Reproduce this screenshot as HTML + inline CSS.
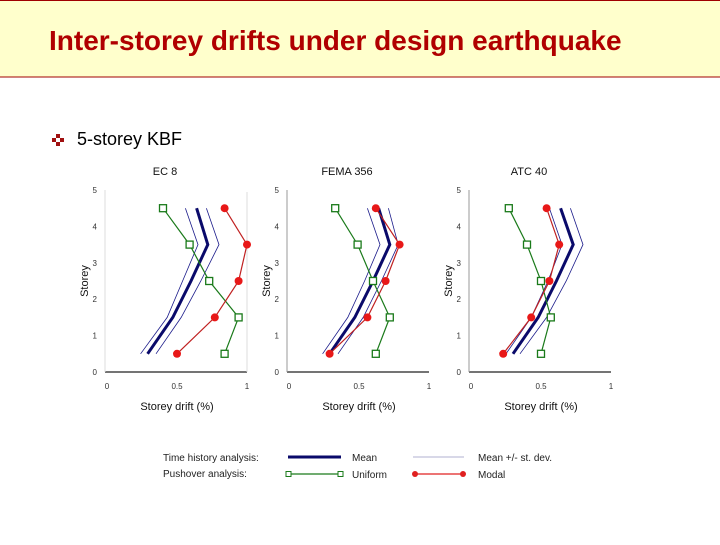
<!DOCTYPE html>
<html><head><meta charset="utf-8"><style>
body{margin:0;width:720px;height:540px;background:#fff;overflow:hidden;font-family:"Liberation Sans",sans-serif;}
</style></head><body>
<svg id="s" width="720" height="540" xmlns="http://www.w3.org/2000/svg" font-family="Liberation Sans, sans-serif">
<rect x="0" y="0" width="720" height="77" fill="#ffffcc"/>
<line x1="0" y1="0.5" x2="720" y2="0.5" stroke="#a00000"/>
<line x1="0" y1="77" x2="720" y2="77" stroke="#a00000"/>
<text x="49" y="50" font-size="28" font-weight="bold" fill="#b00000">Inter-storey drifts under design earthquake</text>
<g fill="#a01010"><rect x="56" y="134" width="4" height="4"/><rect x="52" y="138" width="4" height="4"/><rect x="60" y="138" width="4" height="4"/><rect x="56" y="142" width="4" height="4"/></g>
<text x="77" y="145" font-size="18" fill="#000">5-storey KBF</text>
<g id="charts"></g>
<g font-size="10" fill="#222">
<text x="163" y="461">Time history analysis:</text>
<text x="163" y="477">Pushover analysis:</text>
<line x1="288" y1="457" x2="341" y2="457" stroke="#0a0a6a" stroke-width="3"/>
<text x="352" y="461">Mean</text>
<line x1="413" y1="457" x2="464" y2="457" stroke="#b0b0d0" stroke-width="1"/>
<text x="478" y="461">Mean +/- st. dev.</text>
<line x1="288" y1="474" x2="340" y2="474" stroke="#1a7a1a" stroke-width="1.2"/>
<rect x="286" y="471.5" width="5" height="5" fill="#fff" stroke="#1a7a1a"/>
<rect x="338" y="471.5" width="5" height="5" fill="#fff" stroke="#1a7a1a"/>
<text x="352" y="478">Uniform</text>
<line x1="415" y1="474" x2="463" y2="474" stroke="#e02020" stroke-width="1.2"/>
<circle cx="415" cy="474" r="3" fill="#e02020"/>
<circle cx="463" cy="474" r="3" fill="#e02020"/>
<text x="478" y="478">Modal</text>
</g>
</svg>
<script>
const storeys = [4.5, 3.5, 2.5, 1.5, 0.5];
const panelTitles = ["EC 8", "FEMA 356", "ATC 40"];
const xTicks = ["0", "0.5", "1"];
const yTicks = ["0", "1", "2", "3", "4", "5"];
const meanEC8 = [0.64, 0.72, 0.60, 0.47, 0.29];
const meanMinusEC8 = [0.56, 0.65, 0.54, 0.43, 0.24];
const meanPlusEC8 = [0.71, 0.80, 0.67, 0.53, 0.35];
const uniformEC8 = [0.40, 0.59, 0.73, 0.94, 0.84];
const modalEC8 = [0.84, 1.00, 0.94, 0.77, 0.50];
const meanFEMA = [0.64, 0.72, 0.60, 0.47, 0.29];
const meanMinusFEMA = [0.56, 0.65, 0.54, 0.42, 0.24];
const meanPlusFEMA = [0.71, 0.78, 0.66, 0.53, 0.35];
const uniformFEMA = [0.33, 0.49, 0.60, 0.72, 0.62];
const modalFEMA = [0.62, 0.79, 0.69, 0.56, 0.29];
const meanATC = [0.64, 0.73, 0.61, 0.48, 0.30];
const meanMinusATC = [0.56, 0.65, 0.55, 0.43, 0.25];
const meanPlusATC = [0.71, 0.80, 0.68, 0.54, 0.35];
const uniformATC = [0.27, 0.40, 0.50, 0.57, 0.50];
const modalATC = [0.54, 0.63, 0.56, 0.43, 0.23];

const NS = "http://www.w3.org/2000/svg";
const root = document.getElementById("charts");
function mk(tag, attrs, parent) {
  const e = document.createElementNS(NS, tag);
  for (const k in attrs) e.setAttribute(k, attrs[k]);
  parent.appendChild(e);
  return e;
}
const panels = [
  {x0: 107, mean: meanEC8, lo: meanMinusEC8, hi: meanPlusEC8, uni: uniformEC8, mod: modalEC8, key: "ec8"},
  {x0: 289, mean: meanFEMA, lo: meanMinusFEMA, hi: meanPlusFEMA, uni: uniformFEMA, mod: modalFEMA, key: "fema"},
  {x0: 471, mean: meanATC, lo: meanMinusATC, hi: meanPlusATC, uni: uniformATC, mod: modalATC, key: "atc"}
];
const Y0 = 372, YU = 36.4, XU = 140;
panels.forEach((p, i) => {
  const g = mk("g", {}, root);
  
  
  const xs = v => p.x0 + v * XU;
  const ys = v => Y0 - v * YU;
  const t = mk("text", {x: p.x0 + 58, y: 175, "font-size": 11, "text-anchor": "middle", fill: "#111"}, g);
  t.textContent = panelTitles[i];
  
  
  const ax = mk("line", {x1: p.x0 - 2, y1: Y0, x2: p.x0 + XU, y2: Y0, stroke: "#222", "stroke-width": 1.2}, g);
  
  
  const ay = mk("line", {x1: p.x0 - 2, y1: Y0, x2: p.x0 - 2, y2: ys(5), stroke: i === 0 ? "#ddd" : "#999", "stroke-width": 1}, g);
  
  
  if (i === 0) {
    const rl = mk("line", {x1: xs(1), y1: Y0, x2: xs(1), y2: 192, stroke: "#ddd"}, g);
    
    
  }
  xTicks.forEach(l => {
    const e = mk("text", {x: xs(parseFloat(l)), y: 389, "font-size": 8, "text-anchor": "middle", fill: "#333"}, g);
    e.textContent = l;
    
    
  });
  yTicks.forEach(l => {
    const e = mk("text", {x: p.x0 - 10, y: ys(parseFloat(l)) + 3, "font-size": 8, "text-anchor": "end", fill: "#333"}, g);
    e.textContent = l;
    
    
  });
  const xt = mk("text", {x: p.x0 + 70, y: 410, "font-size": 11, "text-anchor": "middle", fill: "#111"}, g);
  xt.textContent = "Storey drift (%)";
  
  
  const cx = p.x0 - 19, cy = 281;
  const yt = mk("text", {x: cx, y: cy, "font-size": 11, "text-anchor": "middle", fill: "#111", transform: `rotate(-90 ${cx} ${cy})`}, g);
  yt.textContent = "Storey";
  
  
  const pts = arr => arr.map((v, k) => xs(v) + "," + ys(storeys[k])).join(" ");
  const lo = mk("polyline", {points: pts(p.lo), fill: "none", stroke: "#1a1a8a", "stroke-width": 0.8}, g);
  
  
  const hi = mk("polyline", {points: pts(p.hi), fill: "none", stroke: "#1a1a8a", "stroke-width": 0.8}, g);
  
  
  const mn = mk("polyline", {points: pts(p.mean), fill: "none", stroke: "#0a0a6a", "stroke-width": 3}, g);
  
  
  const un = mk("polyline", {points: pts(p.uni), fill: "none", stroke: "#1a7a1a", "stroke-width": 1.2}, g);
  
  
  p.uni.forEach((v, k) => {
    const r = mk("rect", {x: xs(v) - 3.5, y: ys(storeys[k]) - 3.5, width: 7, height: 7, fill: "#fff", stroke: "#1a7a1a", "stroke-width": 1.3}, g);
    
    
  });
  const md = mk("polyline", {points: pts(p.mod), fill: "none", stroke: "#c02020", "stroke-width": 1.2}, g);
  
  
  p.mod.forEach((v, k) => {
    const c = mk("circle", {cx: xs(v), cy: ys(storeys[k]), r: 4, fill: "#e81818"}, g);
    
    
  });
});
</script>
</body></html>
